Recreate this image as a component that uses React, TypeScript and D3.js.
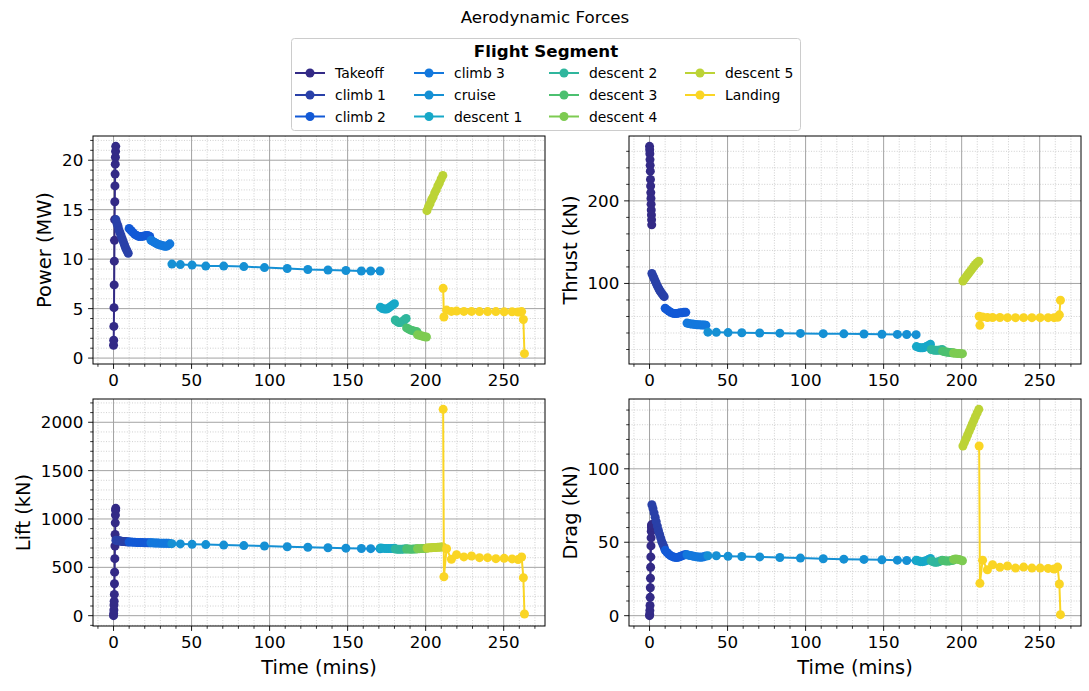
import * as d3 from "d3";

// flight segments in legend order
const segments = [
  "Takeoff", "climb 1", "climb 2", "climb 3", "cruise", "descent 1",
  "descent 2", "descent 3", "descent 4", "descent 5", "Landing",
];
const segmentColors = [
  "#332a86", "#2940a8", "#1259d6", "#1378dd", "#1590d4", "#17a8c8",
  "#2fb69d", "#4cc070", "#7dcb51", "#bcd336", "#fad524",
];

// time (mins) of every sample, per segment
const time = [
  [0, 0.1, 0.2, 0.3, 0.4, 0.5, 0.6, 0.7, 0.8, 0.9, 1.0, 1.1, 1.2, 1.3, 1.4],
  [1.5, 2.2, 2.9, 3.6, 4.3, 5.0, 5.7, 6.4, 7.1, 7.8, 8.6, 9.4],
  [10.0, 11.2, 12.4, 13.6, 14.8, 16.0, 17.2, 18.4, 19.6, 20.8, 22.0, 23.2],
  [24.0, 25.1, 26.2, 27.3, 28.4, 29.5, 30.6, 31.7, 32.8, 33.9, 35.0, 36.1],
  [37.4, 42.8, 50.3, 59.1, 70.6, 83.5, 96.7, 111.3, 124.5, 137.4, 148.9, 158.8, 164.8, 170.8],
  [171.0, 172.3, 173.6, 174.9, 176.1, 177.4, 178.7, 180.0],
  [180.5, 181.7, 182.8, 184.0, 185.2, 186.3, 187.5],
  [187.8, 189.0, 190.1, 191.2, 192.3, 193.4, 194.5],
  [194.8, 196.0, 197.2, 198.3, 199.4, 200.5],
  [200.8, 201.8, 202.8, 203.8, 204.8, 205.8, 206.8, 207.8, 208.8, 209.9, 211.0],
  [211.2, 211.7, 213.4, 216.5, 219.8, 224.5, 229.4, 234.5, 239.7, 245.0, 250.3, 255.4, 259.2, 261.5, 262.6, 263.3],
];

const power = [
  [1.3, 1.8, 3.2, 5.1, 7.4, 9.8, 11.9, 14.0, 15.8, 17.4, 18.6, 19.6, 20.3, 20.9, 21.4],
  [14.0, 13.6, 13.3, 12.9, 12.6, 12.3, 12.0, 11.7, 11.4, 11.1, 10.85, 10.6],
  [13.1, 12.9, 12.7, 12.5, 12.4, 12.3, 12.3, 12.3, 12.35, 12.4, 12.4, 12.3],
  [11.9, 11.8, 11.7, 11.6, 11.5, 11.45, 11.4, 11.35, 11.3, 11.3, 11.4, 11.55],
  [9.5, 9.45, 9.4, 9.3, 9.3, 9.25, 9.15, 9.05, 8.95, 8.9, 8.85, 8.8, 8.8, 8.8],
  [5.15, 5.0, 4.95, 4.95, 5.05, 5.2, 5.35, 5.5],
  [3.85, 3.7, 3.6, 3.6, 3.7, 3.85, 4.0],
  [3.05, 2.95, 2.85, 2.8, 2.75, 2.7, 2.65],
  [2.35, 2.3, 2.25, 2.2, 2.15, 2.13],
  [14.9, 15.3, 15.6, 16.0, 16.3, 16.7, 17.0, 17.4, 17.7, 18.1, 18.45],
  [7.05, 4.15, 4.85, 4.72, 4.75, 4.72, 4.72, 4.7, 4.7, 4.7, 4.68, 4.68, 4.66, 4.7, 3.9, 0.45],
];

const thrust = [
  [266, 262, 257, 250, 243, 236, 226, 218, 210, 203, 196, 189, 183, 177, 171],
  [112, 109, 106, 103, 100, 97, 94.5, 92, 90, 88, 86, 84],
  [70, 68, 66.5, 65, 64, 63.5, 63.5, 64, 64.5, 64.5, 65, 65],
  [52, 51.5, 51, 50.8, 50.5, 50.3, 50, 50, 49.8, 49.7, 49.6, 49.5],
  [41, 40.8, 40.5, 40.3, 40, 39.8, 39.5, 39.2, 39, 38.8, 38.5, 38.3, 38.2, 38],
  [23.5, 22.5, 22, 22, 22.5, 23.5, 25, 26.5],
  [20, 19.5, 19, 19, 19, 19.5, 20],
  [18, 17.5, 17, 16.7, 16.5, 16.2, 16],
  [15.8, 15.5, 15.3, 15.2, 15.0, 15.0],
  [103, 105.5, 108, 110.5, 113, 115.5, 118, 120.5, 123, 125, 127],
  [60.3, 49.3, 59.5, 58.8, 58.7, 58.7, 58.6, 58.6, 58.6, 58.6, 58.6, 58.6, 58.6, 59, 62, 79.7],
];

const lift = [
  [0, 20, 60, 110, 150, 220, 330, 450, 590, 720, 840, 960, 1040, 1090, 1110],
  [780, 778, 776, 774, 772, 770, 768, 767, 766, 765, 764, 763],
  [762, 761, 760, 759, 758, 757, 756, 756, 755, 755, 754, 754],
  [754, 753, 752, 752, 751, 750, 750, 749, 749, 748, 748, 747],
  [745, 742, 738, 735, 730, 725, 720, 713, 708, 703, 698, 695, 693, 692],
  [700, 698, 696, 695, 694, 694, 695, 697],
  [690, 688, 687, 687, 688, 690, 692],
  [690, 689, 688, 688, 689, 690, 691],
  [692, 693, 694, 695, 696, 697],
  [700, 701, 702, 703, 704, 705, 706, 707, 708, 709, 710],
  [2134, 403, 692, 583, 631, 608, 617, 600, 600, 590, 593, 587, 580, 607, 392, 17],
];

const drag = [
  [0, 1, 3.5, 7, 12.5, 19, 25.5, 33, 40, 47.5, 53, 57.5, 60, 61.5, 62],
  [75.5, 73, 70, 67, 64, 61, 58, 55.5, 53, 50.5, 48.5, 46.5],
  [44.5, 43, 41.8, 40.8, 40.2, 39.8, 39.6, 39.8, 40.3, 40.8, 41.3, 41.6],
  [41.5, 41.2, 41, 40.7, 40.4, 40.2, 40, 39.9, 39.8, 39.9, 40.2, 40.6],
  [40.8, 40.8, 40.5, 40.3, 40, 39.6, 39.2, 38.8, 38.5, 38.3, 38, 37.8, 37.6, 37.5],
  [37.8, 37.2, 36.8, 36.8, 37, 37.5, 38.2, 39],
  [37.3, 36.8, 36.4, 36.4, 36.7, 37.2, 37.7],
  [37.6, 37.4, 37.2, 37.2, 37.3, 37.5, 37.7],
  [38.3, 38.6, 38.5, 38.2, 37.8, 37.4],
  [115.5, 118, 120.5, 123, 125.5, 128, 130.5, 133, 135.5, 138, 140.5],
  [115.5, 22, 37.8, 31.3, 34.7, 32.9, 33.8, 32.4, 33.1, 32.4, 32.4, 32.2, 31.8, 33.1, 21.6, 0.7],
];

const timeTicks = [0, 50, 100, 150, 200, 250];
const powerTicks = [0, 5, 10, 15, 20];
const thrustTicks = [100, 200];
const liftTicks = [0, 500, 1000, 1500, 2000];
const dragTicks = [0, 50, 100];

const FONT = "'DejaVu Sans', sans-serif";
const TICK_FS = 16.7;
const LABEL_FS = 19.4;

// pad the extent by 5% each side, like matplotlib autoscale
const padded = (vals: number[]) => {
  const [lo, hi] = d3.extent(vals) as [number, number];
  const m = (hi - lo) * 0.05;
  return [lo - m, hi + m];
};

const allTimes = time.flat();

type PanelProps = {
  left: number; top: number; width: number; height: number;
  values: number[][]; ticks: number[]; minorStep: number;
  ylabel: string; xlabel: boolean; id: string;
};

const Panel = ({ left, top, width, height, values, ticks, minorStep, ylabel, xlabel, id }: PanelProps) => {
  const x = d3.scaleLinear().domain(padded(allTimes)).range([left, left + width]);
  const y = d3.scaleLinear().domain(padded(values.flat())).range([top + height, top]);
  const [x0, x1] = x.domain();
  const [y0, y1] = y.domain();
  const xMinor = d3.range(Math.ceil(x0 / 10) * 10, x1, 10).filter(v => !timeTicks.includes(v));
  const yMinor = d3.range(Math.ceil(y0 / minorStep) * minorStep, y1, minorStep)
    .filter(v => !ticks.some(t => Math.abs(t - v) < 1e-9));

  const line = d3.line<[number, number]>().x(d => x(d[0])).y(d => y(d[1]));
  const bottom = top + height;

  // ylabel sits left of the widest tick label, like matplotlib
  const maxChars = d3.max(ticks, t => String(t).length) || 1;
  const ylabelX = left - 9.7 - maxChars * 0.636 * TICK_FS - 5.6 - 12;

  return (
    <g>
      <defs>
        <clipPath id={id}>
          <rect x={left} y={top} width={width} height={height} />
        </clipPath>
      </defs>
      {/* minor grid */}
      {xMinor.map(v => (
        <line key={"xm" + v} x1={x(v)} x2={x(v)} y1={top} y2={bottom}
          stroke="#c4c4c4" strokeWidth={0.8} strokeDasharray="1,1.6" />
      ))}
      {yMinor.map(v => (
        <line key={"ym" + v} x1={left} x2={left + width} y1={y(v)} y2={y(v)}
          stroke="#c4c4c4" strokeWidth={0.8} strokeDasharray="1,1.6" />
      ))}
      {/* major grid */}
      {timeTicks.map(v => (
        <line key={"xg" + v} x1={x(v)} x2={x(v)} y1={top} y2={bottom} stroke="#a3a3a3" strokeWidth={1} />
      ))}
      {ticks.map(v => (
        <line key={"yg" + v} x1={left} x2={left + width} y1={y(v)} y2={y(v)} stroke="#a3a3a3" strokeWidth={1} />
      ))}

      <g clipPath={`url(#${id})`}>
        {values.map((seg, i) => {
          const pts = seg.map((v, j) => [time[i][j], v] as [number, number]);
          return (
            <g key={i}>
              <path d={line(pts) || ""} fill="none" stroke={segmentColors[i]} strokeWidth={2} />
              {pts.map((p, j) => (
                <circle key={j} cx={x(p[0])} cy={y(p[1])} r={4.5} fill={segmentColors[i]} />
              ))}
            </g>
          );
        })}
      </g>

      <rect x={left} y={top} width={width} height={height} fill="none" stroke="#000" strokeWidth={1} />

      {/* ticks */}
      {xMinor.map(v => (
        <line key={"xt" + v} x1={x(v)} x2={x(v)} y1={bottom} y2={bottom + 2.8} stroke="#000" strokeWidth={0.8} />
      ))}
      {timeTicks.map(v => (
        <g key={"xT" + v}>
          <line x1={x(v)} x2={x(v)} y1={bottom} y2={bottom + 4.9} stroke="#000" strokeWidth={0.9} />
          <text x={x(v)} y={bottom + 22} textAnchor="middle" fontSize={TICK_FS} fontFamily={FONT}>{v}</text>
        </g>
      ))}
      {yMinor.map(v => (
        <line key={"yt" + v} x1={left - 2.8} x2={left} y1={y(v)} y2={y(v)} stroke="#000" strokeWidth={0.8} />
      ))}
      {ticks.map(v => (
        <g key={"yT" + v}>
          <line x1={left - 4.9} x2={left} y1={y(v)} y2={y(v)} stroke="#000" strokeWidth={0.9} />
          <text x={left - 9.7} y={y(v)} dy="0.36em" textAnchor="end" fontSize={TICK_FS} fontFamily={FONT}>{v}</text>
        </g>
      ))}

      <text transform={`translate(${ylabelX},${top + height / 2}) rotate(-90)`} dy="0.36em" textAnchor="middle"
        fontSize={LABEL_FS} fontFamily={FONT}>{ylabel}</text>
      {xlabel && (
        <text x={left + width / 2} y={bottom + 48} textAnchor="middle" fontSize={LABEL_FS} fontFamily={FONT}>
          Time (mins)
        </text>
      )}
    </g>
  );
};

const Legend = () => {
  const colX = [295, 414, 549, 685];
  const rowY = [73, 95, 116.5];
  return (
    <g fontFamily={FONT}>
      <rect x={291.5} y={38.5} width={509} height={92} rx={3} fill="#fff" stroke="#cccccc" strokeWidth={1} />
      <text x={546} y={56.5} textAnchor="middle" fontSize={16.7} fontWeight="bold">Flight Segment</text>
      {segments.map((s, i) => {
        const c = Math.floor(i / 3);
        const r = i % 3;
        const lx = colX[c];
        const ly = rowY[r];
        return (
          <g key={s}>
            <line x1={lx} x2={lx + 30} y1={ly} y2={ly} stroke={segmentColors[i]} strokeWidth={2} />
            <circle cx={lx + 15} cy={ly} r={4.5} fill={segmentColors[i]} />
            <text x={lx + 40} y={ly} dy="0.36em" fontSize={13.9}>{s}</text>
          </g>
        );
      })}
    </g>
  );
};

export default function App() {
  const W = 1089;
  const H = 691;
  return (
    <svg width={W} height={H} viewBox={`0 0 ${W} ${H}`}
      style={{ position: "absolute", left: 0, top: 0, background: "#fff" }}>
      <rect width={W} height={H} fill="#fff" />
      <text x={545} y={23} textAnchor="middle" fontSize={16.7} fontFamily={FONT}>Aerodynamic Forces</text>
      <Panel id="c1" left={93} top={136} width={452} height={228} values={power} ticks={powerTicks}
        minorStep={1} ylabel="Power (MW)" xlabel={false} />
      <Panel id="c2" left={629} top={136} width={452} height={228} values={thrust} ticks={thrustTicks}
        minorStep={20} ylabel="Thrust (kN)" xlabel={false} />
      <Panel id="c3" left={93} top={399} width={452} height={227} values={lift} ticks={liftTicks}
        minorStep={100} ylabel="Lift (kN)" xlabel={true} />
      <Panel id="c4" left={629} top={399} width={452} height={227} values={drag} ticks={dragTicks}
        minorStep={10} ylabel="Drag (kN)" xlabel={true} />
      <Legend />
    </svg>
  );
}
